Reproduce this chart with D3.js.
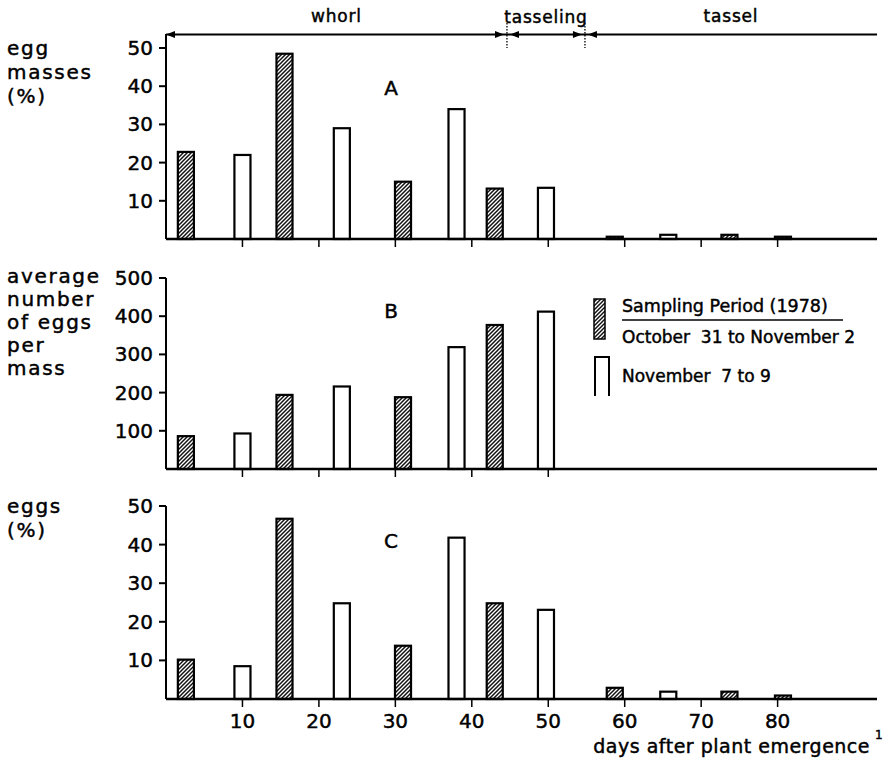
<!DOCTYPE html>
<html><head><meta charset="utf-8">
<script src="https://cdn.jsdelivr.net/npm/d3@7"></script>
<style>body{margin:0;background:#fff} text{stroke:#000;stroke-width:0.45px}</style>
</head><body><script>
// Sampling dates (days after plant emergence) for the two periods
const octDays = [2.6, 15.5, 31, 43, 58.7, 73.7, 80.7];
const novDays = [10, 23, 38, 49.7, 65.7];

// A: egg masses (%)
const eggMassesOct = [22.8, 48.5, 15, 13.2, 0.6, 1.1, 0.6];
const eggMassesNov = [22, 29, 34, 13.4, 1.1];
// B: average number of eggs per mass
const eggsPerMassOct = [86, 194, 188, 377, 0, 0, 0];
const eggsPerMassNov = [93, 216, 319, 412, 0];
// C: eggs (%)
const eggsOct = [10.2, 46.7, 13.8, 24.8, 2.9, 1.9, 0.9];
const eggsNov = [8.5, 24.8, 41.8, 23.1, 1.9];

const pctTicks = [10, 20, 30, 40, 50];
const countTicks = [100, 200, 300, 400, 500];
const dayTicks = [10, 20, 30, 40, 50, 60, 70, 80];
const dayTicksB = [10, 20, 30, 40, 50];

const stageNames = ["whorl", "tasseling", "tassel"];
const stageBounds = [0, 44.6, 54.8, 93];

const legendLabels = ["Sampling Period (1978)", "October\u00a0 31 to November 2", "November\u00a0 7 to 9"];

const W = 887, H = 762;
const FONT = "'DejaVu Sans', sans-serif";
const svg = d3.select("body").append("svg").attr("width", W).attr("height", H)
  .style("font-family", FONT);

const defs = svg.append("defs");
const pat = defs.append("pattern").attr("id", "hatch").attr("patternUnits", "userSpaceOnUse")
  .attr("width", 4).attr("height", 4);
pat.append("rect").attr("width", 4).attr("height", 4).attr("fill", "#fff");
pat.append("path").attr("d", "M-1,1 l2,-2 M0,4 l4,-4 M3,5 l2,-2")
  .attr("stroke", "#111").attr("stroke-width", 1.5);

const x = d3.scaleLinear().domain([0, 93]).range([166, 877]);
const barW = x(2.1) - x(0);

const panels = [
  { y: d3.scaleLinear().domain([0, 50]).range([239, 48]), top: 34, ticks: pctTicks,
    oct: eggMassesOct, nov: eggMassesNov, dticks: dayTicks, letter: "A", ly: 95,
    label: [["egg", 55], ["masses", 79], ["(%)", 103]] },
  { y: d3.scaleLinear().domain([0, 500]).range([469, 278]), top: 278, ticks: countTicks,
    oct: eggsPerMassOct, nov: eggsPerMassNov, dticks: dayTicksB, letter: "B", ly: 318,
    label: [["average", 283], ["number", 306], ["of eggs", 329], ["per", 352], ["mass", 375]] },
  { y: d3.scaleLinear().domain([0, 50]).range([699, 506]), top: 506, ticks: pctTicks,
    oct: eggsOct, nov: eggsNov, dticks: dayTicks, letter: "C", ly: 548,
    label: [["eggs", 513], ["(%)", 537]] }
];

panels.forEach(p => {
  const g = svg.append("g");
  const y = p.y;
  // bars
  const bars = [
    ...octDays.map((d, i) => ({ d, v: p.oct[i], fill: "url(#hatch)" })),
    ...novDays.map((d, i) => ({ d, v: p.nov[i], fill: "#fff" }))
  ].filter(b => b.v > 0);
  g.selectAll("rect.bar").data(bars).join("rect").attr("class", "bar")
    .attr("x", b => x(b.d) - barW / 2).attr("width", barW)
    .attr("y", b => y(b.v)).attr("height", b => y(0) - y(b.v))
    .attr("fill", b => b.fill).attr("stroke", "#000").attr("stroke-width", 2.2);
  // y axis
  g.append("line").attr("x1", x(0)).attr("x2", x(0)).attr("y1", p.top).attr("y2", y(0))
    .attr("stroke", "#000").attr("stroke-width", 2);
  g.selectAll("line.yt").data(p.ticks).join("line").attr("class", "yt")
    .attr("x1", x(0) - 7).attr("x2", x(0)).attr("y1", d => y(d)).attr("y2", d => y(d))
    .attr("stroke", "#000").attr("stroke-width", 2);
  g.selectAll("text.yl").data(p.ticks).join("text").attr("class", "yl")
    .attr("x", x(0) - 13).attr("y", d => y(d) + 7).attr("text-anchor", "end")
    .attr("font-size", 20).text(d => d);
  // baseline and day ticks
  g.append("line").attr("x1", x(0)).attr("x2", x(93)).attr("y1", y(0)).attr("y2", y(0))
    .attr("stroke", "#000").attr("stroke-width", 2.4);
  g.selectAll("line.xt").data(p.dticks).join("line").attr("class", "xt")
    .attr("x1", d => x(d)).attr("x2", d => x(d)).attr("y1", y(0)).attr("y2", y(0) + 8)
    .attr("stroke", "#000").attr("stroke-width", 1.5);
  // panel letter
  g.append("text").attr("x", 391).attr("y", p.ly).attr("text-anchor", "middle")
    .attr("font-size", 20).text(p.letter);
  // side label
  g.selectAll("text.sl").data(p.label).join("text").attr("class", "sl")
    .attr("x", 7).attr("y", d => d[1]).attr("font-size", 20).attr("letter-spacing", 1.7)
    .text(d => d[0]);
});

// day labels under panel C
const yC = panels[2].y;
svg.selectAll("text.xl").data(dayTicks).join("text").attr("class", "xl")
  .attr("x", d => x(d)).attr("y", yC(0) + 29).attr("text-anchor", "middle")
  .attr("font-size", 20).text(d => d);
svg.append("text").attr("x", 870).attr("y", 753).attr("text-anchor", "end")
  .attr("font-size", 19).attr("letter-spacing", 0.5).text("days after plant emergence");
svg.append("text").attr("x", 875).attr("y", 739).attr("font-size", 12).text("1");

// growth stages along the top
const sy = 34.5;
svg.append("line").attr("x1", x(0)).attr("x2", x(93)).attr("y1", sy).attr("y2", sy)
  .attr("stroke", "#000").attr("stroke-width", 2.2);
const arrow = (tipX, dir) => svg.append("path")
  .attr("d", `M${tipX},${sy} l${-dir * 9},-3.5 l0,7 Z`).attr("fill", "#000");
arrow(x(0), -1);
[stageBounds[1], stageBounds[2]].forEach(b => {
  const bx = x(b);
  arrow(bx - 3, 1);
  arrow(bx + 3, -1);
  svg.append("line").attr("x1", bx).attr("x2", bx).attr("y1", 23).attr("y2", 48)
    .attr("stroke", "#000").attr("stroke-width", 1.3).attr("stroke-dasharray", "1.5,1.5");
});
svg.selectAll("text.st").data(stageNames).join("text").attr("class", "st")
  .attr("x", (d, i) => x((stageBounds[i] + stageBounds[i + 1]) / 2))
  .attr("y", (d, i) => i === 1 ? 23 : 22).attr("text-anchor", "middle")
  .attr("font-size", 17).attr("letter-spacing", 0.8).text(d => d);

// legend
svg.append("rect").attr("x", 594).attr("y", 299).attr("width", 11).attr("height", 40)
  .attr("fill", "url(#hatch)").attr("stroke", "#000").attr("stroke-width", 1.5);
svg.append("path").attr("d", "M595,396 V357 H609 V396").attr("fill", "none")
  .attr("stroke", "#000").attr("stroke-width", 2);
svg.append("text").attr("x", 622).attr("y", 312).attr("font-size", 17.5).text(legendLabels[0]);
svg.append("line").attr("x1", 622).attr("x2", 843).attr("y1", 320).attr("y2", 320)
  .attr("stroke", "#000").attr("stroke-width", 1.5);
svg.append("text").attr("x", 622).attr("y", 343).attr("font-size", 17).text(legendLabels[1]);
svg.append("text").attr("x", 622).attr("y", 382).attr("font-size", 17).text(legendLabels[2]);
</script></body></html>
